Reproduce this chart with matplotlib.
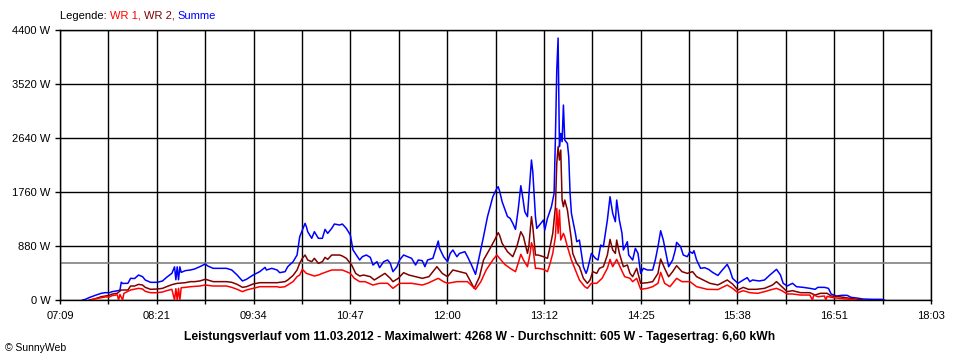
import matplotlib.pyplot as plt
import numpy as np

plt.rcParams['font.family'] = ['Liberation Sans', 'DejaVu Sans']

# achsen
x_labels = ['07:09', '08:21', '09:34', '10:47', '12:00', '13:12',
            '14:25', '15:38', '16:51', '18:03']
y_ticks = [0, 880, 1760, 2640, 3520, 4400]
durchschnitt = 605

# Summe (blau)
summe_zeit = ['07:26', '07:28', '07:31', '07:36', '07:40', '07:43', '07:46', '07:48', '07:52', '07:54',
              '07:55', '07:56', '08:00', '08:02', '08:05', '08:08', '08:11', '08:13', '08:17', '08:22',
              '08:26', '08:29', '08:33', '08:35', '08:36', '08:37', '08:38', '08:39', '08:40', '08:43',
              '08:47', '08:50', '08:54', '08:58', '09:00', '09:04', '09:09', '09:14', '09:18', '09:22',
              '09:26', '09:29', '09:34', '09:39', '09:43', '09:44', '09:48', '09:52', '09:54', '09:58',
              '10:00', '10:04', '10:07', '10:09', '10:11', '10:13', '10:14', '10:15', '10:18', '10:19',
              '10:20', '10:23', '10:26', '10:28', '10:30', '10:33', '10:35', '10:39', '10:41', '10:44',
              '10:47', '10:49', '10:52', '10:54', '10:56', '10:59', '11:02', '11:04', '11:07', '11:09',
              '11:12', '11:15', '11:17', '11:19', '11:22', '11:24', '11:27', '11:30', '11:33', '11:36',
              '11:38', '11:41', '11:43', '11:45', '11:49', '11:53', '11:54', '11:57', '12:00', '12:02',
              '12:04', '12:07', '12:09', '12:13', '12:15', '12:18', '12:21', '12:23', '12:27', '12:30',
              '12:34', '12:37', '12:38', '12:39', '12:41', '12:43', '12:45', '12:47', '12:49', '12:51',
              '12:53', '12:55', '12:56', '12:58', '13:00', '13:01', '13:03', '13:04', '13:06', '13:07',
              '13:09', '13:12', '13:13', '13:15', '13:18', '13:20', '13:21', '13:22', '13:23', '13:24',
              '13:25', '13:26', '13:27', '13:28', '13:30', '13:31', '13:32', '13:33', '13:36', '13:37',
              '13:39', '13:42', '13:44', '13:45', '13:48', '13:51', '13:53', '13:55', '13:57', '14:00',
              '14:02', '14:04', '14:06', '14:07', '14:09', '14:11', '14:12', '14:15', '14:16', '14:19',
              '14:21', '14:23', '14:25', '14:27', '14:30', '14:34', '14:36', '14:38', '14:40', '14:42',
              '14:44', '14:46', '14:49', '14:51', '14:52', '14:55', '14:57', '15:00', '15:02', '15:04',
              '15:05', '15:07', '15:10', '15:13', '15:16', '15:19', '15:23', '15:26', '15:30', '15:32',
              '15:34', '15:38', '15:42', '15:45', '15:47', '15:49', '15:54', '15:58', '16:02', '16:07',
              '16:10', '16:12', '16:15', '16:19', '16:22', '16:27', '16:32', '16:36', '16:38', '16:43',
              '16:46', '16:48', '16:52', '16:56', '17:00', '17:03', '17:07', '17:12', '17:19', '17:26',
              '17:28']
summe_w = [0, 10, 40, 80, 109, 120, 118, 135, 150, 160,
           290, 270, 272, 353, 350, 407, 380, 326, 288, 288,
           310, 369, 434, 540, 330, 540, 330, 540, 450, 478,
           489, 505, 543, 586, 554, 516, 516, 516, 489, 407,
           310, 337, 407, 462, 532, 489, 516, 489, 445, 462,
           543, 624, 733, 1032, 1140, 1249, 1195, 1113, 1005, 1059,
           1113, 1005, 1005, 1151, 1086, 1167, 1238, 1222, 1238, 1167,
           1059, 815, 717, 652, 706, 733, 695, 570, 624, 527,
           624, 652, 597, 462, 543, 652, 733, 706, 679, 570,
           652, 641, 543, 652, 679, 961, 842, 706, 624, 760,
           815, 706, 760, 787, 706, 570, 418, 624, 1032, 1358,
           1683, 1819, 1846, 1781, 1600, 1480, 1360, 1330, 1249, 1151,
           1466, 1862, 1738, 1439, 1358, 1683, 2281, 2090, 1358, 1167,
           1222, 1303, 1140, 1330, 1520, 1738, 2661, 3747, 4268, 2498,
           2715, 2579, 3177, 2606, 2552, 2335, 1738, 1412, 1086, 950,
           977, 543, 434, 489, 760, 679, 652, 896, 869, 1303,
           1683, 1412, 1276, 1629, 1303, 1086, 815, 950, 733, 652,
           842, 760, 434, 516, 489, 489, 652, 869, 1129, 977,
           760, 543, 652, 815, 939, 869, 733, 706, 787, 760,
           804, 652, 516, 527, 500, 450, 400, 480, 581, 489,
           353, 272, 326, 364, 299, 326, 310, 326, 407, 500,
           407, 272, 228, 272, 217, 206, 190, 174, 206, 206,
           190, 98, 65, 76, 76, 43, 33, 16, 11, 11,
           0]

# WR 2 (dunkelrot)
wr2_zeit = ['07:31', '07:34', '07:36', '07:40', '07:43', '07:46', '07:48', '07:52', '07:55', '08:00',
            '08:02', '08:05', '08:08', '08:11', '08:13', '08:17', '08:22', '08:26', '08:29', '08:33',
            '08:37', '08:43', '08:47', '08:50', '08:54', '08:58', '09:00', '09:04', '09:14', '09:18',
            '09:22', '09:26', '09:29', '09:34', '09:39', '09:52', '09:58', '10:00', '10:04', '10:07',
            '10:09', '10:11', '10:13', '10:15', '10:18', '10:20', '10:23', '10:26', '10:28', '10:30',
            '10:33', '10:39', '10:41', '10:44', '10:48', '10:51', '10:54', '10:57', '11:02', '11:05',
            '11:09', '11:13', '11:17', '11:19', '11:23', '11:27', '11:31', '11:36', '11:41', '11:46',
            '11:52', '11:56', '12:00', '12:04', '12:09', '12:14', '12:20', '12:24', '12:27', '12:32',
            '12:36', '12:38', '12:39', '12:41', '12:45', '12:49', '12:52', '12:55', '12:57', '13:00',
            '13:01', '13:03', '13:04', '13:06', '13:08', '13:12', '13:15', '13:17', '13:19', '13:21',
            '13:22', '13:23', '13:24', '13:25', '13:26', '13:27', '13:28', '13:30', '13:31', '13:33',
            '13:34', '13:37', '13:39', '13:42', '13:45', '13:47', '13:49', '13:52', '13:54', '13:57',
            '14:00', '14:02', '14:04', '14:06', '14:07', '14:09', '14:12', '14:15', '14:17', '14:19',
            '14:22', '14:23', '14:25', '14:30', '14:34', '14:38', '14:40', '14:43', '14:46', '14:49',
            '14:52', '14:56', '15:00', '15:04', '15:07', '15:12', '15:17', '15:23', '15:30', '15:34',
            '15:38', '15:42', '15:46', '15:52', '15:58', '16:04', '16:07', '16:11', '16:15', '16:19',
            '16:25', '16:32', '16:36', '16:40', '16:45', '16:48', '16:54', '17:02', '17:07', '17:12']
wr2_w = [0, 15, 25, 54, 65, 76, 95, 110, 163, 163,
         228, 228, 255, 244, 206, 174, 179, 190, 217, 250,
         271, 282, 299, 299, 310, 337, 326, 299, 299, 288,
         255, 206, 217, 261, 282, 282, 299, 326, 400, 489,
         600, 680, 733, 652, 624, 679, 597, 624, 695, 662,
         733, 733, 717, 679, 570, 434, 391, 407, 380, 326,
         380, 434, 353, 299, 353, 445, 407, 380, 353, 380,
         543, 434, 380, 489, 462, 434, 190, 380, 652, 842,
         1005, 1097, 1059, 923, 787, 706, 869, 1113, 1032, 760,
         869, 1358, 1195, 733, 733, 706, 679, 869, 1086, 1520,
         2226, 2498, 2281, 2443, 1629, 1520, 1629, 1466, 1303, 977,
         760, 597, 543, 353, 272, 326, 462, 434, 516, 543,
         733, 988, 815, 760, 977, 760, 543, 570, 434, 380,
         516, 434, 272, 282, 299, 434, 668, 516, 380, 462,
         559, 462, 434, 462, 380, 326, 272, 245, 326, 261,
         163, 206, 174, 174, 190, 244, 299, 217, 136, 152,
         119, 119, 81, 109, 109, 65, 54, 27, 11, 0]

# WR 1 (rot)
wr1_zeit = ['07:33', '07:36', '07:40', '07:43', '07:46', '07:48', '07:52', '07:53', '07:54', '07:56',
            '07:57', '08:02', '08:08', '08:11', '08:13', '08:17', '08:22', '08:26', '08:29', '08:33',
            '08:35', '08:36', '08:37', '08:38', '08:39', '08:40', '08:43', '08:47', '08:54', '08:58',
            '09:00', '09:04', '09:14', '09:18', '09:22', '09:26', '09:29', '09:34', '09:39', '09:52',
            '09:54', '09:58', '10:00', '10:04', '10:07', '10:09', '10:11', '10:14', '10:20', '10:23',
            '10:26', '10:33', '10:41', '10:47', '10:50', '10:54', '10:58', '11:04', '11:09', '11:15',
            '11:19', '11:24', '11:33', '11:41', '11:45', '11:53', '11:57', '12:00', '12:07', '12:15',
            '12:21', '12:25', '12:29', '12:34', '12:37', '12:39', '12:43', '12:47', '12:51', '12:53',
            '12:55', '12:57', '13:00', '13:02', '13:03', '13:04', '13:06', '13:08', '13:12', '13:15',
            '13:17', '13:19', '13:21', '13:22', '13:23', '13:24', '13:25', '13:27', '13:28', '13:30',
            '13:33', '13:36', '13:39', '13:43', '13:45', '13:48', '13:52', '13:56', '14:00', '14:02',
            '14:04', '14:07', '14:10', '14:13', '14:17', '14:19', '14:22', '14:25', '14:30', '14:34',
            '14:38', '14:40', '14:43', '14:47', '14:52', '14:56', '15:02', '15:07', '15:15', '15:23',
            '15:30', '15:34', '15:38', '15:42', '15:47', '15:53', '15:58', '16:04', '16:07', '16:11',
            '16:15', '16:19', '16:25', '16:32', '16:34', '16:35', '16:38', '16:43', '16:44', '16:45',
            '16:48', '16:54', '17:02', '17:07']
wr1_w = [0, 20, 38, 50, 49, 70, 85, 0, 90, 0,
         109, 163, 190, 179, 141, 119, 119, 130, 152, 174,
         0, 185, 0, 190, 0, 200, 206, 217, 228, 244,
         239, 228, 228, 206, 174, 136, 163, 190, 217, 217,
         206, 217, 244, 300, 380, 407, 500, 434, 391, 407,
         434, 489, 489, 434, 353, 299, 299, 244, 272, 272,
         190, 272, 272, 244, 272, 353, 299, 272, 299, 299,
         174, 299, 489, 652, 733, 680, 580, 516, 462, 597,
         744, 652, 543, 760, 934, 869, 516, 516, 500, 462,
         597, 760, 1032, 1493, 1086, 1466, 977, 1086, 1032, 869,
         652, 489, 326, 217, 190, 272, 272, 353, 516, 662,
         543, 662, 516, 380, 353, 299, 353, 174, 190, 217,
         272, 451, 272, 217, 353, 299, 299, 217, 174, 170,
         244, 190, 119, 152, 119, 109, 136, 174, 190, 152,
         98, 98, 81, 81, 0, 81, 54, 65, 0, 60,
         43, 27, 11, 0]


def minuten(t):
    h, m = t.split(':')
    return int(h) * 60 + int(m)


t_start = minuten(x_labels[0])
t_end = minuten(x_labels[-1])

fig = plt.figure(figsize=(9.6, 3.6), dpi=100)
ax = fig.add_axes([60 / 960, 60 / 360, 871 / 960, 270 / 360])

major = np.linspace(t_start, t_end, len(x_labels))
minor = (major[:-1] + major[1:]) / 2
ax.set_xticks(major)
ax.set_xticklabels(x_labels)
ax.set_xticks(minor, minor=True)
ax.set_yticks(y_ticks)
ax.set_yticklabels(['%d W' % v for v in y_ticks])
ax.set_xlim(t_start, t_end)
ax.set_ylim(0, 4400)

ax.grid(True, which='both', axis='x', color='black', lw=1.0)
ax.grid(True, which='major', axis='y', color='black', lw=1.0)
ax.set_axisbelow(True)
for s in ax.spines.values():
    s.set_linewidth(1.0)
ax.tick_params(axis='x', which='both', length=3, width=1, pad=5, labelsize=8)
ax.tick_params(axis='y', length=3.5, width=1, pad=3.5, labelsize=8)

ax.axhline(durchschnitt, color='#808080', lw=1.2, zorder=1.5)

ax.plot([minuten(t) for t in summe_zeit], summe_w, color='#0000ff', lw=1.1, zorder=2)
ax.plot([minuten(t) for t in wr2_zeit], wr2_w, color='#800000', lw=1.1, zorder=3)
ax.plot([minuten(t) for t in wr1_zeit], wr1_w, color='#ff0000', lw=1.1, zorder=4)

# Legende oben links
renderer = fig.canvas.get_renderer()
x = 60 / 960
for txt, col in [('Legende: ', 'black'), ('WR 1, ', '#ff0000'),
                 ('WR 2, ', '#800000'), ('Summe', '#0000ff')]:
    t = fig.text(x, 1 - 16 / 360, txt, color=col, fontsize=8, va='center', ha='left')
    bb = t.get_window_extent(renderer)
    x += bb.width / fig.bbox.width

fig.text(0.5, 1 - 337 / 360,
         'Leistungsverlauf vom 11.03.2012 - Maximalwert: 4268 W - '
         'Durchschnitt: 605 W - Tagesertrag: 6,60 kWh',
         ha='center', va='center', fontsize=8.7, fontweight='bold')
fig.text(5 / 960, 1 - 348 / 360, '\u00a9 SunnyWeb', ha='left', va='center', fontsize=7.5)

fig.savefig('out.png', dpi=100)
